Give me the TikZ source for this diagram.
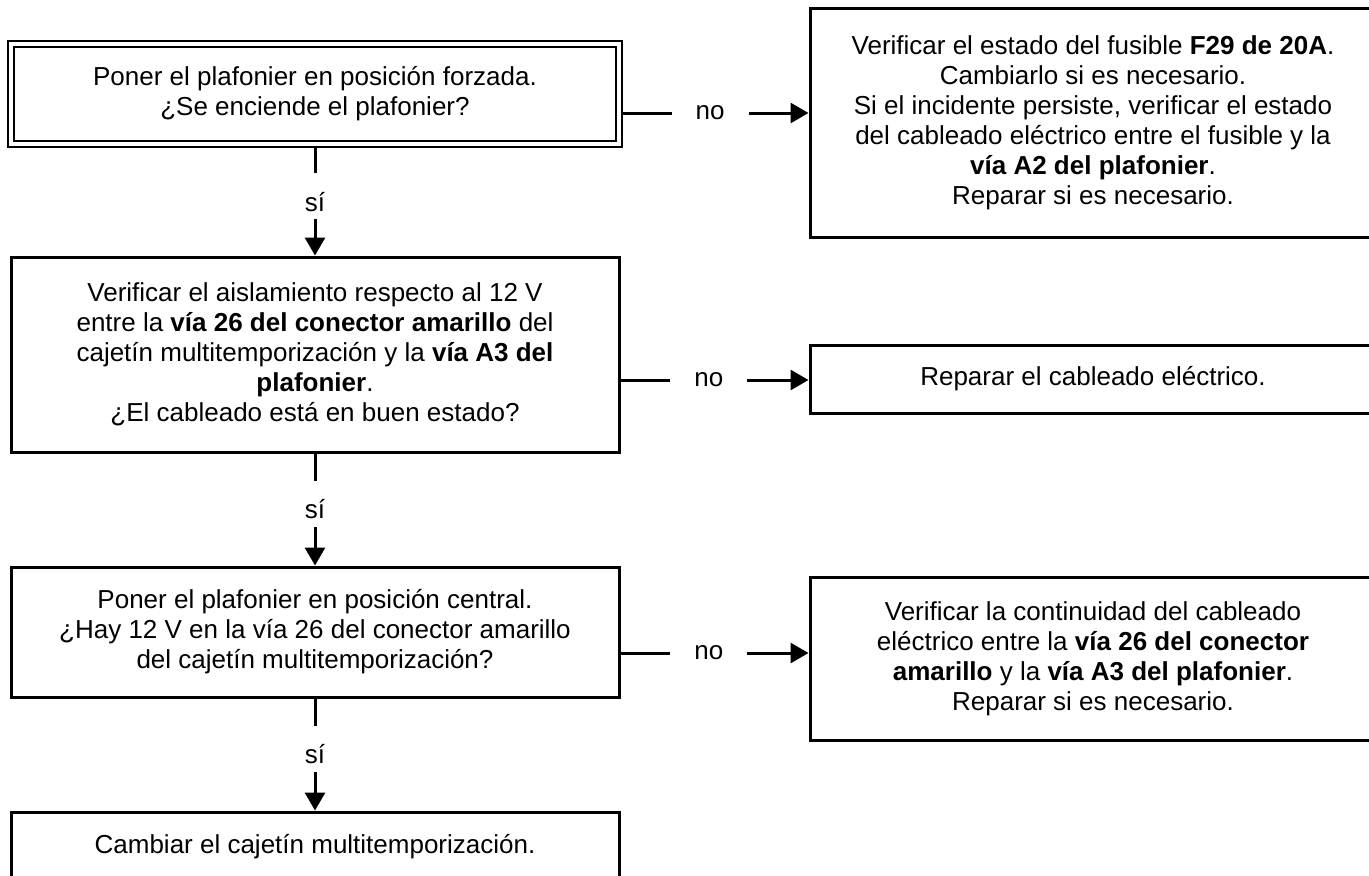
\documentclass[tikz,border=0pt]{standalone}
\usepackage{fontspec}
\setmainfont{Liberation Sans}
\usetikzlibrary{positioning, arrows.meta}

\newcommand{\si}{\raisebox{-2.5pt}[10pt][0pt]{sí}}

\begin{document}
\begin{tikzpicture}[x=0.5pt, y=-0.5pt, >={Triangle[length=9pt, width=10pt]},
    qbox/.style={draw, line width=1.5pt, minimum width=304pt,
                 font=\fontsize{13}{15}\selectfont, align=center},
    abox/.style={draw, line width=1.5pt, minimum width=283pt,
                 font=\fontsize{13}{15}\selectfont, align=center},
    lab/.style={fill=white, font=\fontsize{13}{15}\selectfont},
    con/.style={line width=1.5pt}]
  \useasboundingbox (0,0) rectangle (1369,875);
  \clip (0,0) rectangle (1369,875);
  % left column
  \node[qbox, double, line width=1pt, double distance=2pt, outer sep=2pt,
        minimum height=50pt] (forz) at (315,94)
        {Poner el plafonier en posición forzada.\\ ¿Se enciende el plafonier?};
  \node[qbox, minimum height=97.5pt] (aisl) at (315,354.5)
        {Verificar el aislamiento respecto al 12 V\\
         entre la \textbf{vía 26 del conector amarillo} del\\
         cajetín multitemporización y la \textbf{vía A3 del}\\
         \textbf{plafonier}.\\
         ¿El cableado está en buen estado?};
  \node[qbox, minimum height=65pt] (cent) at (315,632)
        {Poner el plafonier en posición central.\\
         ¿Hay 12 V en la vía 26 del conector amarillo\\
         del cajetín multitemporización?};
  \node[qbox, minimum height=35pt] (camb) at (315,847)
        {Cambiar el cajetín multitemporización.};
  % right column
  \node[abox, minimum height=114.5pt] (fus) at (1093,122.5)
        {Verificar el estado del fusible \textbf{F29 de 20A}.\\
         Cambiarlo si es necesario.\\
         Si el incidente persiste, verificar el estado\\
         del cableado eléctrico entre el fusible y la\\
         \textbf{vía A2 del plafonier}.\\
         Reparar si es necesario.};
  \node[abox, minimum height=34pt] (rep) at (1093,379)
        {Reparar el cableado eléctrico.};
  \node[abox, minimum height=81.5pt] (cont) at (1093,658.5)
        {Verificar la continuidad del cableado\\
         eléctrico entre la \textbf{vía 26 del conector}\\
         \textbf{amarillo} y la \textbf{vía A3 del plafonier}.\\
         Reparar si es necesario.};
  % levels of the "no" branches
  \coordinate (n1) at (0,113);
  \coordinate (n2) at (0,380);
  \coordinate (n3) at (0,653);
  % si
  \draw[con, ->] (forz.south) -- node[lab, pos=0.45, inner ysep=6.5pt]{\si} (aisl.north);
  \draw[con, ->] (aisl.south) -- node[lab, pos=0.45, inner ysep=6.5pt]{\si} (cent.north);
  \draw[con, ->] (cent.south) -- node[lab, pos=0.45, inner ysep=6.5pt]{\si} (camb.north);
  % no
  \draw[con, ->] (forz.east |- n1) -- node[lab, pos=0.47, inner xsep=12pt]{no} (fus.west |- n1);
  \draw[con, ->] (aisl.east |- n2) -- node[lab, pos=0.47, inner xsep=12pt]{no} (rep.west |- n2);
  \draw[con, ->] (cent.east |- n3) -- node[lab, pos=0.47, inner xsep=12pt]{no} (cont.west |- n3);
\end{tikzpicture}
\end{document}
